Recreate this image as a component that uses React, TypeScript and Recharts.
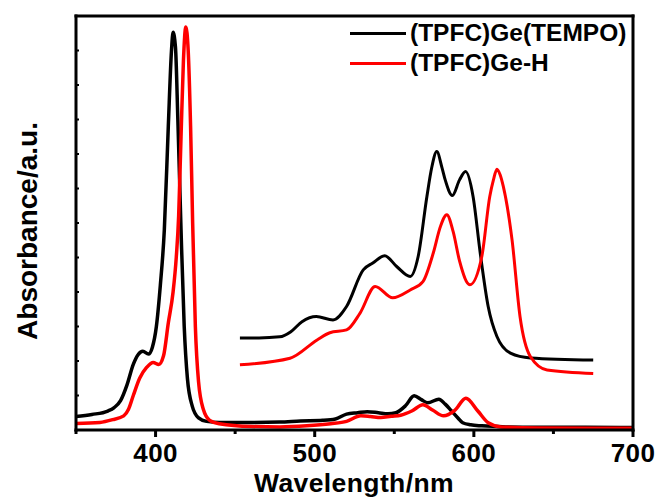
import { LineChart, Line, XAxis, YAxis, Legend } from "recharts";

// main spectra
const mainBlackWl = [350, 360, 370, 374, 378, 382, 386, 389, 392, 395.5, 398, 400.5, 403, 405.5, 408, 410, 411, 412.5, 414, 416, 418, 420, 423, 427, 432, 440, 460, 478, 491, 505, 513, 520, 527, 533, 540, 546, 551, 557, 562.5, 567, 571, 578, 582, 586, 590, 593, 598, 605, 620, 640, 670, 700];
const mainBlackAbs = [0.039, 0.045, 0.055, 0.065, 0.085, 0.13, 0.19, 0.218, 0.228, 0.22, 0.24, 0.3, 0.42, 0.58, 0.88, 1.1, 1.153, 1.11, 0.9, 0.58, 0.3, 0.15, 0.07, 0.035, 0.025, 0.022, 0.022, 0.023, 0.026, 0.028, 0.032, 0.046, 0.05, 0.053, 0.05, 0.047, 0.05, 0.07, 0.099, 0.088, 0.079, 0.089, 0.075, 0.055, 0.035, 0.021, 0.015, 0.012, 0.009, 0.008, 0.008, 0.007];

const mainRedWl = [350, 365, 373, 380, 383, 386, 390, 394.5, 398.5, 402, 405, 408, 411, 413, 414.5, 416, 417.5, 419, 420.5, 422, 423.3, 425, 427, 430, 434, 440, 460, 478, 495, 510, 520, 529, 535, 541.5, 548, 554, 561, 568, 574, 581, 588, 595, 602.5, 609, 617, 640, 700];
const mainRedAbs = [0.019, 0.022, 0.03, 0.041, 0.06, 0.1, 0.15, 0.182, 0.196, 0.19, 0.215, 0.31, 0.4, 0.5, 0.62, 0.85, 1.07, 1.168, 1.1, 0.88, 0.6, 0.3, 0.14, 0.06, 0.028, 0.018, 0.01, 0.009, 0.012, 0.018, 0.025, 0.041, 0.039, 0.036, 0.04, 0.043, 0.055, 0.073, 0.058, 0.041, 0.057, 0.092, 0.055, 0.021, 0.009, 0.006, 0.005];

// magnified Q-band inset
const insetBlackWl = [453, 465, 478, 485, 492, 501, 511.5, 520, 530.5, 536.5, 544, 551.5, 560, 565, 570.5, 573.5, 576.7, 580, 582, 586.5, 591, 594.8, 599.5, 604, 609, 614.5, 623, 635.5, 675];
const insetBlackAbs = [0.267, 0.267, 0.27, 0.285, 0.314, 0.329, 0.319, 0.358, 0.464, 0.484, 0.505, 0.474, 0.445, 0.503, 0.677, 0.76, 0.807, 0.76, 0.725, 0.68, 0.725, 0.749, 0.677, 0.513, 0.358, 0.271, 0.223, 0.209, 0.203];

const insetRedWl = [453, 484.5, 501.5, 509.5, 520, 528.5, 538, 549, 560, 568, 574.5, 579, 583, 587, 591, 597.5, 605, 610, 612.3, 614.5, 616.5, 618.5, 624, 629, 635.5, 646, 675];
const insetRedAbs = [0.189, 0.208, 0.261, 0.282, 0.29, 0.339, 0.416, 0.383, 0.406, 0.43, 0.513, 0.59, 0.624, 0.575, 0.49, 0.421, 0.503, 0.677, 0.725, 0.756, 0.74, 0.706, 0.551, 0.329, 0.213, 0.174, 0.164];

const xTicks = [350, 400, 450, 500, 550, 600, 650, 700];
const yTicks = [0, 0.1, 0.2, 0.3, 0.4, 0.5, 0.6, 0.7, 0.8, 0.9, 1.0, 1.1, 1.2];

const legendItems = [
  { name: "(TPFC)Ge(TEMPO)", color: "#000000" },
  { name: "(TPFC)Ge-H", color: "#ff0000" },
];

const toPoints = (xs: number[], ys: number[]) => xs.map((x, i) => ({ x, y: ys[i] }));

const mainBlack = toPoints(mainBlackWl, mainBlackAbs);
const mainRed = toPoints(mainRedWl, mainRedAbs);
const insetBlack = toPoints(insetBlackWl, insetBlackAbs);
const insetRed = toPoints(insetRedWl, insetRedAbs);

const FONT = "'Liberation Sans', Arial, sans-serif";

const BottomTick = (props: any) => {
  const { x, y, payload } = props;
  const major = payload.value % 100 === 0;
  return (
    <g>
      <line x1={x} x2={x} y1={y} y2={y + (major ? 7 : 4)} stroke="#000" strokeWidth={3} />
      {major && (
        <text x={x} y={y + 32} textAnchor="middle" fontSize={26} fontWeight="bold" fontFamily={FONT} fill="#000" letterSpacing={0.4}>
          {payload.value}
        </text>
      )}
    </g>
  );
};

const TopTick = (props: any) => {
  const { x, y } = props;
  return <line x1={x} x2={x} y1={y} y2={y + 3} stroke="#000" strokeWidth={2} />;
};

const LeftTick = (props: any) => {
  const { x, y } = props;
  return <line x1={x} x2={x + 3} y1={y} y2={y} stroke="#000" strokeWidth={2} />;
};

const RightTick = (props: any) => {
  const { x, y } = props;
  return <line x1={x} x2={x + 3} y1={y} y2={y} stroke="#000" strokeWidth={2} />;
};

const frame = { stroke: "#000", strokeWidth: 3, strokeLinecap: "square" as const };

export default function App() {
  return (
    <div style={{ position: "absolute", left: 0, top: 0, width: 656, height: 499, background: "#fff" }}>
      <LineChart width={656} height={499} margin={{ top: 0, right: 0, bottom: 0, left: 0 }}>
        <XAxis
          type="number"
          dataKey="x"
          domain={[350, 700]}
          ticks={xTicks}
          interval={0}
          height={69}
          tickSize={0}
          tickMargin={0}
          tickLine={false}
          axisLine={frame}
          tick={<BottomTick />}
          label={() => (
            <text x={354} y={492} textAnchor="middle" fontSize={26.5} fontWeight="bold" fontFamily={FONT} fill="#000" letterSpacing={0.4}>
              Wavelength/nm
            </text>
          )}
        />
        <XAxis
          xAxisId="top"
          orientation="top"
          type="number"
          dataKey="x"
          domain={[350, 700]}
          ticks={xTicks}
          interval={0}
          height={16}
          tickSize={0}
          tickMargin={0}
          tickLine={false}
          axisLine={frame}
          tick={<TopTick />}
        />
        <YAxis
          type="number"
          domain={[0, 1.2]}
          ticks={yTicks}
          interval={0}
          width={76}
          tickSize={0}
          tickMargin={0}
          tickLine={false}
          axisLine={frame}
          tick={<LeftTick />}
          label={() => (
            <text
              x={37}
              y={231}
              transform="rotate(-90 37 231)"
              textAnchor="middle"
              fontSize={28}
              fontWeight="bold"
              fontFamily={FONT}
              fill="#000"
            >
              Absorbance/a.u.
            </text>
          )}
        />
        <YAxis
          yAxisId="right"
          orientation="right"
          type="number"
          domain={[0, 1.2]}
          ticks={yTicks}
          interval={0}
          width={23}
          tickSize={0}
          tickMargin={0}
          tickLine={false}
          axisLine={frame}
          tick={<RightTick />}
        />
        <Legend
          layout="vertical"
          align="center"
          verticalAlign="middle"
          wrapperStyle={{ position: "absolute", left: 350, top: 18, width: 290, height: 60 }}
          content={() => (
            <div style={{ fontFamily: FONT, fontWeight: "bold", fontSize: 24.5, color: "#000" }}>
              {legendItems.map((item) => (
                <div key={item.name} style={{ display: "flex", alignItems: "center", height: 30 }}>
                  <span style={{ display: "inline-block", width: 56, height: 3, background: item.color, marginRight: 4 }} />
                  <span style={{ lineHeight: "30px", whiteSpace: "nowrap" }}>{item.name}</span>
                </div>
              ))}
            </div>
          )}
        />
        <Line data={mainBlack} dataKey="y" type="monotone" stroke="#000000" strokeWidth={3.5} dot={false} activeDot={false} isAnimationActive={false} />
        <Line data={insetBlack} dataKey="y" type="monotone" stroke="#000000" strokeWidth={3} dot={false} activeDot={false} isAnimationActive={false} />
        <Line data={mainRed} dataKey="y" type="monotone" stroke="#ff0000" strokeWidth={3.5} dot={false} activeDot={false} isAnimationActive={false} />
        <Line data={insetRed} dataKey="y" type="monotone" stroke="#ff0000" strokeWidth={3} dot={false} activeDot={false} isAnimationActive={false} />
      </LineChart>
    </div>
  );
}
